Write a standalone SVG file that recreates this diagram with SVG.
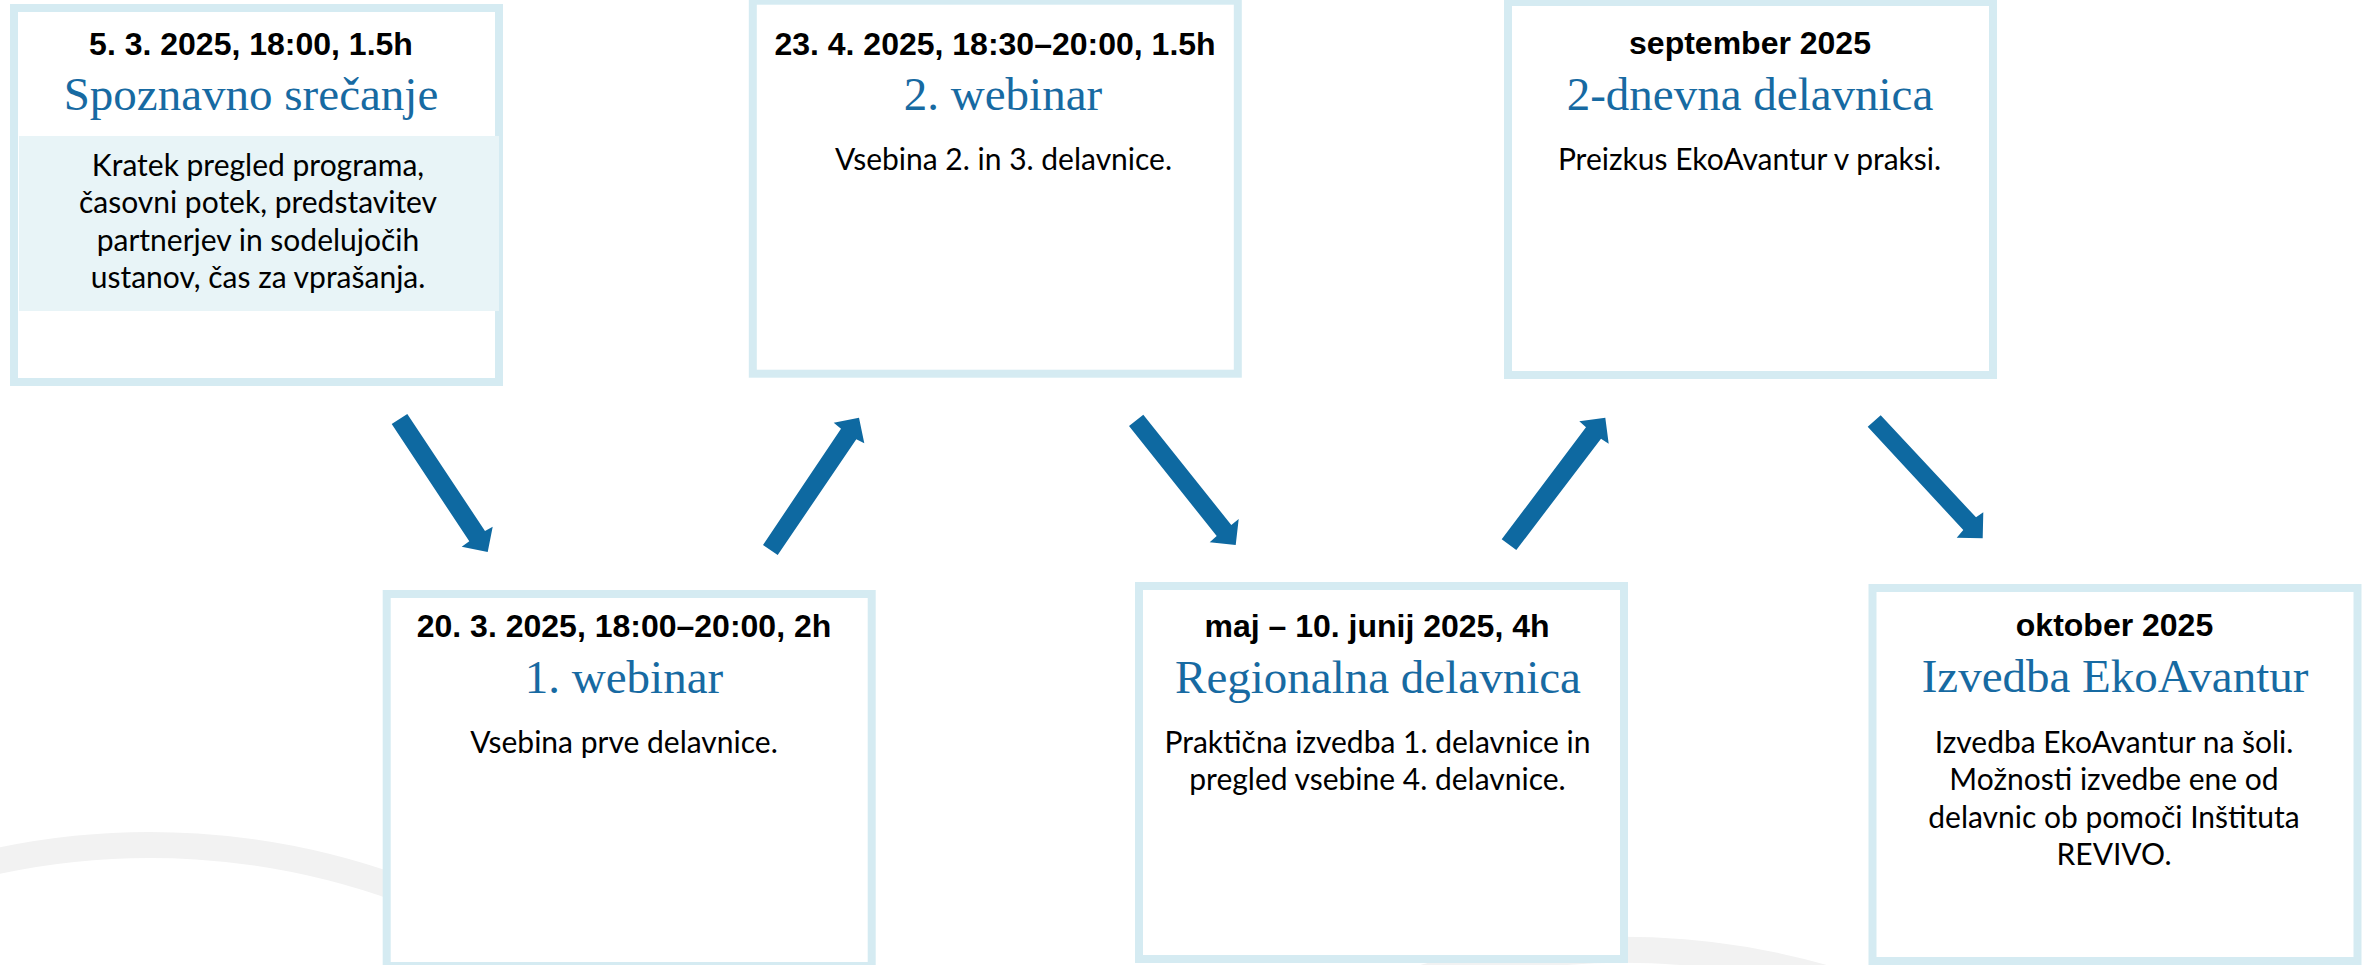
<svg xmlns="http://www.w3.org/2000/svg" width="2371" height="965" viewBox="0 0 2371 965">
<style>
.box{fill:#ffffff;stroke:#d5ebf2;stroke-width:8}
.band{fill:#e8f4f7}
.date{font-family:"Liberation Sans",Arial,sans-serif;font-weight:bold;font-size:32px;fill:#000000;text-anchor:middle}
.title{font-family:"Liberation Serif","Times New Roman",serif;font-size:47px;fill:#176aa2;text-anchor:middle}
.body{font-family:Lato,"Open Sans",sans-serif;font-size:30px;fill:#000000;text-anchor:middle}
.arrow{fill:#0e69a1}
.bgarc{fill:none;stroke:#f2f2f2;stroke-width:26}
</style>
<rect x="0" y="0" width="2371" height="965" fill="#ffffff"/>
<g id="background">
<path class="bgarc" d="M -10 862.7 A 733 733 0 0 1 400 889"/>
<path class="bgarc" d="M 1400 984.7 A 733 733 0 0 1 1900 1004"/>
</g>
<g id="node-spoznavno">
<rect class="box" x="14" y="8" width="485" height="374"/>
<rect class="band" x="19" y="136" width="480" height="175"/>
<text class="date" x="251" y="55">5. 3. 2025, 18:00, 1.5h</text>
<text class="title" x="251" y="110">Spoznavno srečanje</text>
<text class="body" x="258" y="175.7">Kratek pregled programa,</text>
<text class="body" x="258" y="213.3">časovni potek, predstavitev</text>
<text class="body" x="258" y="250.7">partnerjev in sodelujočih</text>
<text class="body" x="258" y="288.3">ustanov, čas za vprašanja.</text>
</g>
<g id="node-webinar1">
<rect class="box" x="386.7" y="594" width="485" height="372"/>
<text class="date" x="624" y="636.7">20. 3. 2025, 18:00–20:00, 2h</text>
<text class="title" x="624" y="692.7">1. webinar</text>
<text class="body" x="624" y="753">Vsebina prve delavnice.</text>
</g>
<g id="node-webinar2">
<rect class="box" x="752.8" y="0.7" width="485" height="373"/>
<text class="date" x="995" y="55">23. 4. 2025, 18:30–20:00, 1.5h</text>
<text class="title" x="1003" y="110">2. webinar</text>
<text class="body" x="1003.5" y="170">Vsebina 2. in 3. delavnice.</text>
</g>
<g id="node-regionalna">
<rect class="box" x="1139" y="586" width="485" height="373"/>
<text class="date" x="1377" y="636.7">maj – 10. junij 2025, 4h</text>
<text class="title" x="1378" y="692.7">Regionalna delavnica</text>
<text class="body" x="1377.5" y="753.1">Praktična izvedba 1. delavnice in</text>
<text class="body" x="1377.5" y="790.4">pregled vsebine 4. delavnice.</text>
</g>
<g id="node-dvodnevna">
<rect class="box" x="1508" y="2" width="485" height="373"/>
<text class="date" x="1750" y="54">september 2025</text>
<text class="title" x="1750" y="110">2-dnevna delavnica</text>
<text class="body" x="1749.5" y="170">Preizkus EkoAvantur v praksi.</text>
</g>
<g id="node-izvedba">
<rect class="box" x="1872.5" y="588" width="485" height="373"/>
<text class="date" x="2114.5" y="636">oktober 2025</text>
<text class="title" x="2115" y="691.6">Izvedba EkoAvantur</text>
<text class="body" x="2114" y="753">Izvedba EkoAvantur na šoli.</text>
<text class="body" x="2114" y="790.4">Možnosti izvedbe ene od</text>
<text class="body" x="2114" y="827.8">delavnic ob pomoči Inštituta</text>
<text class="body" x="2114" y="865.2">REVIVO.</text>
</g>
<g id="connectors">
<polygon class="arrow" points="407.3,414 485,531 492.7,526.7 487.7,552 461.7,546.7 469.3,541.3 391.7,424"/>
<polygon class="arrow" points="777.7,555 856.3,439.3 864.3,443.3 859,417.7 833.7,422.7 841,428.7 763,545"/>
<polygon class="arrow" points="1143.3,414.7 1231.3,525 1238.7,519 1235.7,545 1209.7,542.3 1216.7,536 1129,426"/>
<polygon class="arrow" points="1516.3,550 1601,438.7 1608.7,443.7 1605.3,417.7 1579.3,421.3 1586,427.3 1501.7,539.3"/>
<polygon class="arrow" points="1880.7,415.3 1976,517.3 1983.3,512.3 1982.7,538.3 1956.7,537.7 1963.3,530 1867.7,426.7"/>
</g>
</svg>
